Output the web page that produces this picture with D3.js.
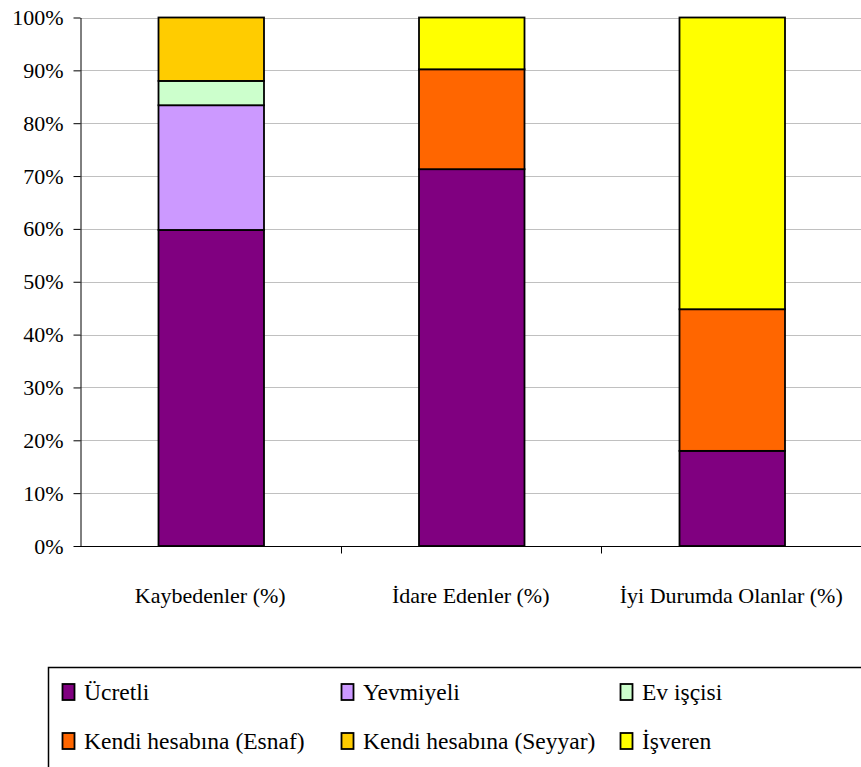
<!DOCTYPE html>
<html>
<head>
<meta charset="utf-8">
<script src="https://cdn.jsdelivr.net/npm/d3@7"></script>
<style>
  body { margin: 0; background: #fff; }
</style>
</head>
<body>
<div id="chart"></div>
<script>
const w = 861;
const h = 767;
const font = "Liberation Serif, Times New Roman, serif";

// data
const categories = ["Kaybedenler (%)", "İdare Edenler (%)", "İyi Durumda Olanlar (%)"];
const seriesNames = ["Ücretli", "Yevmiyeli", "Ev işçisi", "Kendi hesabına (Esnaf)", "Kendi hesabına (Seyyar)", "İşveren"];
const seriesColors = ["#800080", "#cc99ff", "#ccffcc", "#ff6600", "#ffcc00", "#ffff00"];
const ucretli   = [59.8, 71.3, 18.0];
const yevmiyeli = [23.6, 0, 0];
const evIscisi  = [4.6, 0, 0];
const esnaf     = [0, 18.9, 26.8];
const seyyar    = [12.0, 0, 0];
const isveren   = [0, 9.8, 55.2];
const yTicks = [0, 10, 20, 30, 40, 50, 60, 70, 80, 90, 100];

const seriesValues = [ucretli, yevmiyeli, evIscisi, esnaf, seyyar, isveren];
const table = categories.map((c, i) => {
    const row = {cat: c};
    seriesNames.forEach((s, j) => row[s] = seriesValues[j][i]);
    return row;
});
const stacked = d3.stack().keys(seriesNames)(table);

const margin = {left: 80, right: 0, top: 17.5, bottom: 221};
const svg = d3.select("#chart").append("svg").attr("width", w).attr("height", h)
    .attr("font-family", font);

const x = d3.scaleBand().domain(categories).range([margin.left, w + 0.5]).paddingInner(0).paddingOuter(0);
const y = d3.scaleLinear().domain([0, 100]).range([h - margin.bottom, margin.top]);
const barW = x.bandwidth() * 0.405;

// gridlines
svg.append("g")
    .selectAll("line")
    .data(yTicks.filter(d => d > 0))
    .enter()
    .append("line")
    .attr("x1", margin.left)
    .attr("x2", w)
    .attr("y1", d => Math.round(y(d)) + 0.5)
    .attr("y2", d => Math.round(y(d)) + 0.5)
    .attr("stroke", "#c0c0c0")
    .attr("stroke-width", 1);

// bars
svg.append("g")
    .selectAll("g")
    .data(stacked)
    .enter()
    .append("g")
    .attr("fill", (d, i) => seriesColors[i])
    .selectAll("rect")
    .data(d => d.filter(p => p[1] - p[0] > 0))
    .enter()
    .append("rect")
    .attr("x", d => x(d.data.cat) + (x.bandwidth() - barW) / 2 + 1)
    .attr("width", barW)
    .attr("y", d => y(d[1]))
    .attr("height", d => y(d[0]) - y(d[1]))
    .attr("stroke", "#000")
    .attr("stroke-width", 1.8);

// y axis
const yAxis = svg.append("g")
    .attr("transform", "translate(" + (margin.left + 0.5) + ",0)")
    .call(d3.axisLeft(y).tickValues(yTicks).tickFormat(d => d + "%").tickSize(7).tickSizeOuter(0));
yAxis.attr("font-family", font);
yAxis.select(".domain").attr("stroke", "#000");
yAxis.selectAll("text")
    .attr("font-size", 22)
    .attr("fill", "#000")
    .attr("x", -17);

// x axis
const xAxisG = svg.append("g")
    .attr("transform", "translate(0," + (Math.round(y(0)) + 0.5) + ")");
xAxisG.append("line")
    .attr("x1", margin.left)
    .attr("x2", w)
    .attr("stroke", "#000");
xAxisG.selectAll("line.tick")
    .data(categories.slice(1))
    .enter()
    .append("line")
    .attr("class", "tick")
    .attr("x1", d => Math.round(x(d)) + 0.5)
    .attr("x2", d => Math.round(x(d)) + 0.5)
    .attr("y1", 0)
    .attr("y2", 7)
    .attr("stroke", "#000");
xAxisG.selectAll("text")
    .data(categories)
    .enter()
    .append("text")
    .attr("x", d => x(d) + x.bandwidth() / 2)
    .attr("y", 56)
    .attr("text-anchor", "middle")
    .attr("font-size", 22)
    .attr("fill", "#000")
    .text(d => d);

// legend
const legend = svg.append("g");
legend.append("rect")
    .attr("x", 48.5)
    .attr("y", 667.5)
    .attr("width", 900)
    .attr("height", 200)
    .attr("fill", "none")
    .attr("stroke", "#000")
    .attr("stroke-width", 1.5);

const colX = [62, 341, 620];
const rowY = [692, 741];
const items = legend.selectAll("g.item")
    .data(seriesNames)
    .enter()
    .append("g")
    .attr("class", "item")
    .attr("transform", (d, i) => "translate(" + colX[i % 3] + "," + rowY[Math.floor(i / 3)] + ")");
items.append("rect")
    .attr("x", 0.5)
    .attr("y", -8)
    .attr("width", 12)
    .attr("height", 16)
    .attr("fill", (d, i) => seriesColors[i])
    .attr("stroke", "#000")
    .attr("stroke-width", 1.8);
items.append("text")
    .attr("x", 22)
    .attr("y", 7.5)
    .attr("font-size", 23.5)
    .attr("fill", "#000")
    .text(d => d);
</script>
</body>
</html>
